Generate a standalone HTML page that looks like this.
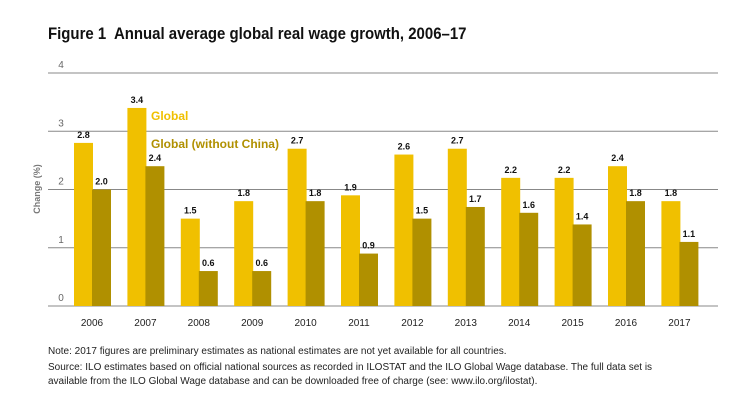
<!DOCTYPE html>
<html><head><meta charset="utf-8"><style>
body{margin:0;background:#fff;width:743px;height:417px;overflow:hidden;font-family:"Liberation Sans",sans-serif}
.t{position:absolute;left:48px;top:24px;font:bold 17px "Liberation Sans Narrow","Liberation Sans",sans-serif;color:#111;transform:scaleX(0.88);transform-origin:left}
.n{position:absolute;left:48px;font-size:10px;color:#222;line-height:14px}
</style></head><body>
<div class="t">Figure 1&nbsp; Annual average global real wage growth, 2006–17</div>
<svg id="c" width="743" height="340" style="position:absolute;left:0;top:0"></svg>
<div class="n" style="top:345px">Note: 2017 figures are preliminary estimates as national estimates are not yet available for all countries.</div>
<div class="n" style="top:361px">Source: ILO estimates based on official national sources as recorded in ILOSTAT and the ILO Global Wage database. The full data set is<br>available from the ILO Global Wage database and can be downloaded free of charge (see: www.ilo.org/ilostat).</div>
<script>
const years=["2006","2007","2008","2009","2010","2011","2012","2013","2014","2015","2016","2017"];
const globalVals=[2.8,3.4,1.5,1.8,2.7,1.9,2.6,2.7,2.2,2.2,2.4,1.8];
const exChinaVals=[2.0,2.4,0.6,0.6,1.8,0.9,1.5,1.7,1.6,1.4,1.8,1.1];
const yTicks=[0,1,2,3,4];
const svg=document.getElementById('c');const NS='http://www.w3.org/2000/svg';
const y=v=>306-v*58.25;const x0=i=>74+i*53.4;const bw=19;
function mk(t,a,txt){const e=document.createElementNS(NS,t);for(const k in a)e.setAttribute(k,a[k]);if(txt!=null)e.textContent=txt;svg.appendChild(e);return e;}
yTicks.forEach(v=>{
const l=mk('line',{x1:48,x2:718,y1:y(v),y2:y(v),stroke:'#888','stroke-width':1});


const t=mk('text',{x:61,y:y(v)-5,'text-anchor':'middle','font-size':10,fill:'#666'},v);


});
const yt=mk('text',{transform:'translate(40,189) rotate(-90)','text-anchor':'middle','font-size':9,'font-weight':'bold',fill:'#777'},'Change (%)');


years.forEach((yr,i)=>{
const xs=x0(i);
[[globalVals[i],'#f0c000',xs,'bar-global-'],[exChinaVals[i],'#b09000',xs+bw-1,'bar-ex-china-']].forEach(([v,c,bx,nm])=>{
const r=mk('rect',{x:bx,y:y(v),width:bw,height:306-y(v),fill:c});


const l=mk('text',{x:bx+bw/2,y:y(v)-5,'text-anchor':'middle','font-size':9,'font-weight':'bold',fill:'#111'},v.toFixed(1));


});
const t=mk('text',{x:xs+bw-1,y:326,'text-anchor':'middle','font-size':10,fill:'#222'},yr);


});
const g1=mk('text',{x:151,y:120,'font-size':12,'font-weight':'bold',fill:'#f0c000'},'Global');


const g2=mk('text',{x:151,y:148,'font-size':12,'font-weight':'bold',fill:'#b09000'},'Global (without China)');


</script>
</body></html>
